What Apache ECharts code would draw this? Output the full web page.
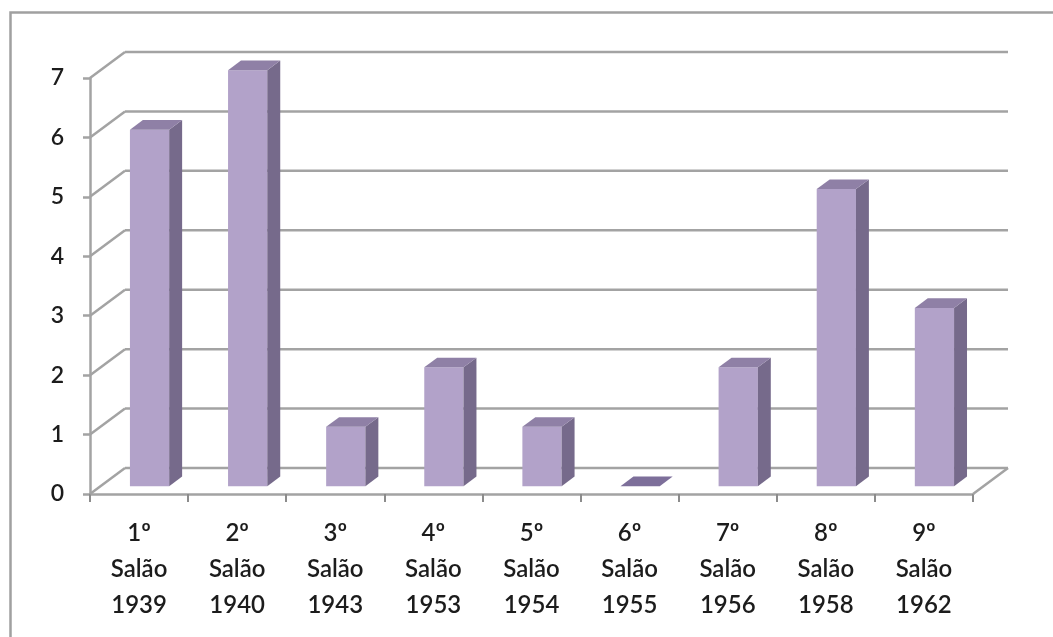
<!DOCTYPE html>
<html>
<head>
<meta charset="utf-8">
<title>Salões</title>
<script src="https://cdn.jsdelivr.net/npm/echarts@6/dist/echarts.min.js"></script>
<style>
  html, body { margin: 0; padding: 0; background: #fff; }
  #chart { width: 1053px; height: 637px; }
</style>
</head>
<body>
<div id="chart"></div>
<script>
// Exhibition editions and count per edition
const ordinals = ['1º', '2º', '3º', '4º', '5º', '6º', '7º', '8º', '9º'];
const years = ['1939', '1940', '1943', '1953', '1954', '1955', '1956', '1958', '1962'];
const counts = [6, 7, 1, 2, 1, 0, 2, 5, 3];
const yTicks = [0, 1, 2, 3, 4, 5, 6, 7];

const categories = ordinals.map((o, i) => o + '\nSalão\n' + years[i]);

// Pseudo-3D depth: offset of the back wall relative to the front plane
const DX = 35, DY = -26;
// Bars occupy this slice of the depth
const D1 = 0.3, D2 = 0.67;
const GRID_COLOR = '#a3a3a3';
const FRONT = '#b2a2c9', SIDE = '#766a8b', TOP = '#8f80a6';
const LABEL_FONT = 'Lato, "Open Sans", sans-serif';

const chart = echarts.init(document.getElementById('chart'));

function wallItem(params, api) {
  const v = api.value(1);
  const cs = params.coordSys;
  const y = api.coord([0, v])[1];
  const left = cs.x, right = cs.x + cs.width;
  const style = { stroke: GRID_COLOR, lineWidth: 2.5, fill: null };
  const children = [
    { type: 'line', shape: { x1: left, y1: y, x2: left + DX, y2: y + DY }, style },
    { type: 'line', shape: { x1: left + DX, y1: y + DY, x2: right + DX, y2: y + DY }, style }
  ];
  if (v === 0) {
    children.push({ type: 'line', shape: { x1: right, y1: y, x2: right + DX, y2: y + DY }, style });
  }
  return { type: 'group', children };
}

function barItem(params, api) {
  const idx = api.value(0);
  const v = api.value(1);
  const base = api.coord([idx, 0]);
  const top = api.coord([idx, v]);
  const band = api.size([1, 0])[0];
  const w = band * 0.4;
  const ox = DX * D1, oy = DY * D1;
  const ex = DX * (D2 - D1), ey = DY * (D2 - D1);
  const x0 = base[0] - w / 2 + ox, x1 = base[0] + w / 2 + ox;
  const yb = base[1] + oy, yt = top[1] + oy;
  const children = [];
  if (v > 0) {
    children.push({
      type: 'rect', shape: { x: x0, y: yt, width: w, height: yb - yt },
      style: { fill: FRONT }
    });
    children.push({
      type: 'polygon',
      shape: { points: [[x1, yt], [x1 + ex, yt + ey], [x1 + ex, yb + ey], [x1, yb]] },
      style: { fill: SIDE }
    });
  }
  children.push({
    type: 'polygon',
    shape: { points: [[x0, yt], [x1, yt], [x1 + ex, yt + ey], [x0 + ex, yt + ey]] },
    style: { fill: v > 0 ? TOP : '#7d6f9a' }
  });
  return { type: 'group', children };
}

chart.setOption({
  backgroundColor: '#fff',
  animation: false,
  textStyle: { fontFamily: LABEL_FONT },
  graphic: [{
    type: 'rect', left: 8, top: 10, z: -10,
    shape: { width: 1200, height: 800 },
    style: { fill: null, stroke: '#a0a0a0', lineWidth: 2.5 }
  }],
  grid: { left: 90, right: 80, top: 78, bottom: 143 },
  xAxis: {
    type: 'category',
    data: categories,
    boundaryGap: true,
    axisLine: { lineStyle: { color: GRID_COLOR, width: 2.5 } },
    axisTick: { show: true, length: 8, lineStyle: { color: '#8c8c8c', width: 2 } },
    axisLabel: {
      color: '#1c1c1c', fontSize: 24, lineHeight: 36, margin: 21,
      fontWeight: 600, fontFamily: LABEL_FONT
    },
    splitLine: { show: false }
  },
  yAxis: {
    type: 'value',
    min: 0, max: 7, interval: 1,
    axisLine: { show: true, lineStyle: { color: GRID_COLOR, width: 2.5 } },
    axisTick: { show: true, length: 7, lineStyle: { color: GRID_COLOR, width: 2.5 } },
    axisLabel: {
      color: '#1c1c1c', fontSize: 23, margin: 26,
      fontWeight: 600, fontFamily: LABEL_FONT
    },
    splitLine: { show: false }
  },
  series: [
    {
      type: 'custom', name: 'walls', clip: false, z: 1, silent: true,
      renderItem: wallItem,
      encode: { x: 0, y: 1 },
      data: yTicks.map(v => [0, v])
    },
    {
      type: 'custom', name: 'Salões', clip: false, z: 2,
      renderItem: barItem,
      encode: { x: 0, y: 1 },
      data: counts.map((c, i) => [i, c])
    }
  ]
});
</script>
</body>
</html>
